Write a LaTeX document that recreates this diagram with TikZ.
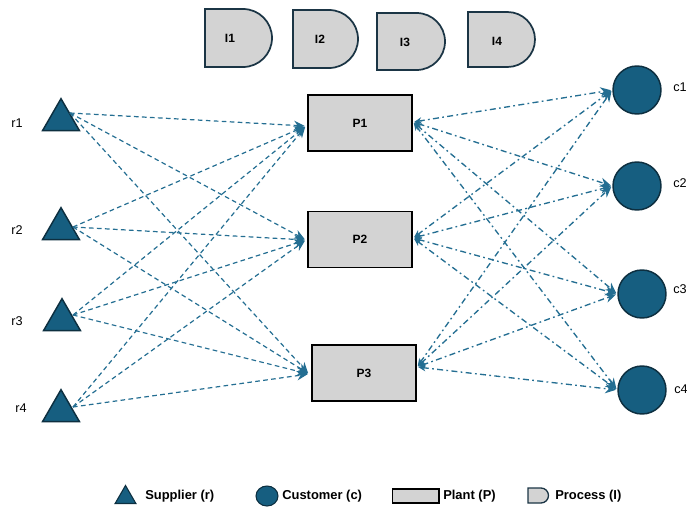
\documentclass[tikz,border=0pt]{standalone}
\usepackage{fontspec}
\setmainfont{Liberation Sans}
\usetikzlibrary{arrows.meta,shapes.geometric}
\definecolor{nodefill}{HTML}{165E80}
\definecolor{nodeedge}{HTML}{0D2F40}
\definecolor{linkcol}{HTML}{246E92}
\definecolor{boxfill}{HTML}{D3D3D3}
\definecolor{procedge}{HTML}{1B3545}
\begin{document}
\begin{tikzpicture}[x=0.75pt,y=-0.75pt,
  supplier/.style={regular polygon, regular polygon sides=3, minimum size=32pt, inner sep=0pt,
     fill=nodefill, draw=nodeedge, line width=1.1pt},
  customer/.style={circle, minimum size=36pt, inner sep=0pt, fill=nodefill, draw=nodeedge, line width=1.1pt},
  plant/.style={rectangle, minimum width=78pt, minimum height=42pt, inner sep=0pt, fill=boxfill, draw=black, line width=1.3pt,
     font=\fontsize{9}{10}\selectfont\bfseries},
  procbox/.style={fill=boxfill, draw=procedge, line width=1.3pt},
  proclabel/.style={inner sep=0pt, font=\fontsize{9}{10}\selectfont\bfseries},
  namelabel/.style={inner sep=0pt, font=\fontsize{9.5}{11}\selectfont},
  legendtext/.style={anchor=west, inner sep=0pt, font=\fontsize{9.7}{11}\selectfont\bfseries},
  supplylink/.style={draw=linkcol, line width=0.9pt, dash pattern=on 3.5pt off 2.5pt,
     -{Stealth[length=8pt,width=7pt]}, shorten >=1pt},
  demandlink/.style={draw=linkcol, line width=1pt, dash pattern=on 4.5pt off 2.5pt on 1.3pt off 2.5pt,
     {Stealth[length=5.5pt,width=5pt]}-{Stealth[length=8pt,width=7pt]}, shorten >=1pt, shorten <=1pt}
]
\useasboundingbox (0,0) rectangle (687,508);

% process shapes
\foreach \x/\y/\w/\h/\lab/\lx/\ly in {205/9/67/58/I1/230/38, 293/10/65/58/I2/320/39, 377/13/68/57/I3/405/42, 468/12/67/55/I4/497/41}{
  \pgfmathsetmacro{\rr}{\h/2}
  \pgfmathsetmacro{\xs}{\x+\w-\rr}
  \draw[procbox] (\x,\y) -- (\xs,\y) arc[start angle=-90, end angle=90, radius=\rr] -- (\x,\y+\h) -- cycle;
  \node[proclabel] (proc\lab) at (\lx,\ly) {\lab};
}

% suppliers
\node[supplier] (r1) at (61,120) {};
\node[supplier] (r2) at (61,229) {};
\node[supplier] (r3) at (62,320) {};
\node[supplier] (r4) at (61,411) {};
\node[namelabel] (r1l) at (17,123) {r1};
\node[namelabel] (r2l) at (17,230) {r2};
\node[namelabel] (r3l) at (17,321) {r3};
\node[namelabel] (r4l) at (21,408) {r4};
\coordinate (r1o) at (70,113);
\coordinate (r2o) at (73,227);
\coordinate (r3o) at (73,315);
\coordinate (r4o) at (73,407);

% plants
\node[plant] (P1) at (360,123) {P1};
\node[plant] (P2) at (360,239.5) {P2};
\node[plant] (P3) at (364,373) {P3};
\coordinate (P1i) at (306,126);
\coordinate (P2i) at (306,240);
\coordinate (P3i) at (309,374);
\coordinate (P1o) at (413,122);
\coordinate (P2o) at (413,238);
\coordinate (P3o) at (417,367);

% customers
\node[customer] (c1) at (637,90) {};
\node[customer] (c2) at (637,186) {};
\node[customer] (c3) at (642,294) {};
\node[customer] (c4) at (642,390) {};
\node[namelabel] (c1l) at (680,87) {c1};
\node[namelabel] (c2l) at (680,183) {c2};
\node[namelabel] (c3l) at (680,289) {c3};
\node[namelabel] (c4l) at (681,389) {c4};

% supplier -> plant links
\foreach \r in {r1o,r2o,r3o,r4o}{
  \foreach \p in {P1i,P2i,P3i}{
    \draw[supplylink] (\r) -- (\p);
  }
}
% plant <-> customer links
\foreach \p in {P1o,P2o,P3o}{
  \foreach \c in {c1,c2,c3,c4}{
    \draw[demandlink] (\p) -- (\c.west);
  }
}

% legend
\node[regular polygon, regular polygon sides=3, minimum size=18pt, inner sep=0pt, fill=nodefill, draw=nodeedge, line width=0.8pt] (legr) at (125.5,497.5) {};
\node[legendtext] (legrt) at (145,496) {Supplier (r)};
\node[ellipse, minimum width=16.5pt, minimum height=15pt, inner sep=0pt, fill=nodefill, draw=nodeedge, line width=0.8pt] (legc) at (267,496) {};
\node[legendtext] (legct) at (282,496) {Customer (c)};
\node[rectangle, minimum width=35pt, minimum height=10.5pt, inner sep=0pt, fill=boxfill, draw=black, line width=1pt] (legp) at (415.5,496) {};
\node[legendtext] (legpt) at (443,496) {Plant (P)};
\draw[procbox, line width=1pt] (528,488) -- (541,488) arc[start angle=-90, end angle=90, radius=7.5] -- (528,503) -- cycle;
\coordinate (legi) at (536,495.5);
\node[legendtext] (legit) at (555,496) {Process (I)};
\end{tikzpicture}
\end{document}
